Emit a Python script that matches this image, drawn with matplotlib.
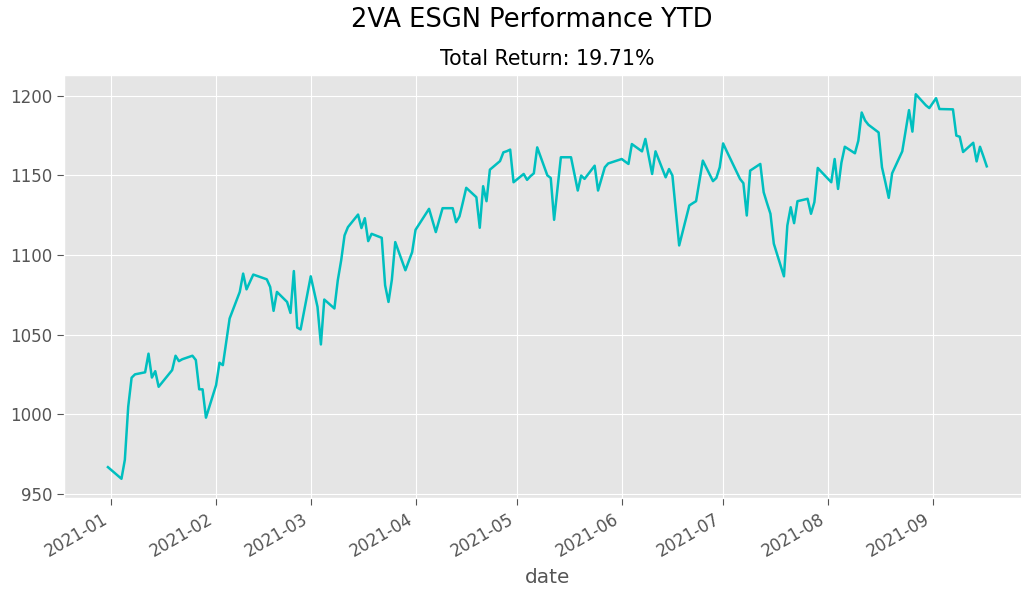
import matplotlib
matplotlib.use("Agg")
import matplotlib.pyplot as plt
import matplotlib.dates as mdates
import pandas as pd

dates = [
    "2020-12-31", "2021-01-04", "2021-01-05", "2021-01-06", "2021-01-07", "2021-01-08",
    "2021-01-11", "2021-01-12", "2021-01-13", "2021-01-14", "2021-01-15",
    "2021-01-19", "2021-01-20", "2021-01-21", "2021-01-22",
    "2021-01-25", "2021-01-26", "2021-01-27", "2021-01-28", "2021-01-29",
    "2021-02-01", "2021-02-02", "2021-02-03", "2021-02-04", "2021-02-05",
    "2021-02-08", "2021-02-09", "2021-02-10", "2021-02-11", "2021-02-12",
    "2021-02-16", "2021-02-17", "2021-02-18", "2021-02-19",
    "2021-02-22", "2021-02-23", "2021-02-24", "2021-02-25", "2021-02-26",
    "2021-03-01", "2021-03-02", "2021-03-03", "2021-03-04", "2021-03-05",
    "2021-03-08", "2021-03-09", "2021-03-10", "2021-03-11", "2021-03-12",
    "2021-03-15", "2021-03-16", "2021-03-17", "2021-03-18", "2021-03-19",
    "2021-03-22", "2021-03-23", "2021-03-24", "2021-03-25", "2021-03-26",
    "2021-03-29", "2021-03-30", "2021-03-31", "2021-04-01",
    "2021-04-05", "2021-04-06", "2021-04-07", "2021-04-08", "2021-04-09",
    "2021-04-12", "2021-04-13", "2021-04-14", "2021-04-15", "2021-04-16",
    "2021-04-19", "2021-04-20", "2021-04-21", "2021-04-22", "2021-04-23",
    "2021-04-26", "2021-04-27", "2021-04-28", "2021-04-29", "2021-04-30",
    "2021-05-03", "2021-05-04", "2021-05-05", "2021-05-06", "2021-05-07",
    "2021-05-10", "2021-05-11", "2021-05-12", "2021-05-13", "2021-05-14",
    "2021-05-17", "2021-05-18", "2021-05-19", "2021-05-20", "2021-05-21",
    "2021-05-24", "2021-05-25", "2021-05-26", "2021-05-27", "2021-05-28",
    "2021-06-01", "2021-06-02", "2021-06-03", "2021-06-04",
    "2021-06-07", "2021-06-08", "2021-06-09", "2021-06-10", "2021-06-11",
    "2021-06-14", "2021-06-15", "2021-06-16", "2021-06-17", "2021-06-18",
    "2021-06-21", "2021-06-22", "2021-06-23", "2021-06-24", "2021-06-25",
    "2021-06-28", "2021-06-29", "2021-06-30", "2021-07-01", "2021-07-02",
    "2021-07-06", "2021-07-07", "2021-07-08", "2021-07-09",
    "2021-07-12", "2021-07-13", "2021-07-14", "2021-07-15", "2021-07-16",
    "2021-07-19", "2021-07-20", "2021-07-21", "2021-07-22", "2021-07-23",
    "2021-07-26", "2021-07-27", "2021-07-28", "2021-07-29", "2021-07-30",
    "2021-08-02", "2021-08-03", "2021-08-04", "2021-08-05", "2021-08-06",
    "2021-08-09", "2021-08-10", "2021-08-11", "2021-08-12", "2021-08-13",
    "2021-08-16", "2021-08-17", "2021-08-18", "2021-08-19", "2021-08-20",
    "2021-08-23", "2021-08-24", "2021-08-25", "2021-08-26", "2021-08-27",
    "2021-08-30", "2021-08-31", "2021-09-01", "2021-09-02", "2021-09-03",
    "2021-09-07", "2021-09-08", "2021-09-09", "2021-09-10",
    "2021-09-13", "2021-09-14", "2021-09-15", "2021-09-16", "2021-09-17",
]

values = [
    966.7, 959.4, 971.3, 1004.7, 1022.9, 1025.0,
    1026.3, 1038.0, 1023.0, 1027.0, 1017.2,
    1027.7, 1036.7, 1033.3, 1034.5,
    1036.7, 1034.0, 1015.6, 1015.6, 997.8,
    1018.3, 1032.3, 1030.8, 1045.4, 1060.1,
    1076.8, 1088.3, 1078.4, 1083.0, 1087.7,
    1084.7, 1079.9, 1064.9, 1076.8,
    1070.5, 1063.6, 1089.9, 1054.4, 1053.2,
    1086.6, 1077.0, 1067.4, 1043.8, 1072.0,
    1066.4, 1084.1, 1096.6, 1112.3, 1117.5,
    1125.4, 1116.9, 1123.1, 1108.7, 1113.3,
    1110.8, 1081.0, 1070.5, 1084.5, 1108.1,
    1090.4, 1096.2, 1101.8, 1115.8,
    1129.0, 1121.7, 1114.4, 1122.0, 1129.4,
    1129.4, 1120.6, 1124.2, 1133.0, 1142.2,
    1136.3, 1117.1, 1143.2, 1133.8, 1153.6,
    1159.0, 1164.5, 1165.2, 1166.2, 1145.7,
    1150.9, 1147.2, 1149.5, 1151.3, 1167.6,
    1150.0, 1148.4, 1122.1, 1142.0, 1161.4,
    1161.4, 1151.0, 1140.5, 1149.9, 1147.8,
    1156.1, 1140.5, 1147.8, 1155.1, 1157.5,
    1160.3, 1158.7, 1157.2, 1169.7,
    1165.1, 1172.9, 1161.8, 1150.9, 1165.1,
    1148.8, 1154.0, 1149.9, 1128.0, 1106.0,
    1131.1, 1132.5, 1133.8, 1146.6, 1159.3,
    1146.4, 1148.4, 1155.1, 1170.1, 1165.5,
    1147.8, 1145.1, 1124.8, 1153.0,
    1157.2, 1139.4, 1132.5, 1125.9, 1107.1,
    1086.6, 1118.5, 1130.0, 1120.0, 1133.8,
    1135.3, 1125.9, 1133.2, 1154.7, 1152.4,
    1145.7, 1160.3, 1141.5, 1158.0, 1168.0,
    1163.9, 1171.8, 1189.5, 1184.5, 1181.8,
    1177.0, 1155.1, 1145.7, 1135.9, 1151.3,
    1165.1, 1178.1, 1191.0, 1177.5, 1201.0,
    1194.0, 1192.3, 1195.4, 1198.5, 1191.7,
    1191.5, 1175.0, 1174.3, 1164.7,
    1170.5, 1158.8, 1168.0, 1162.0, 1155.7,
]

suptitle_text = "2VA ESGN Performance YTD"
subtitle_text = "Total Return: 19.71%"
xlabel_text = "date"

plt.style.use("ggplot")
fig = plt.figure(figsize=(10.21, 5.93), dpi=100)
W, H = 1021, 593
left_px, right_px, top_px, bottom_px = 64, 1030.7, 75, 498
ax = fig.add_axes([left_px / W, 1 - bottom_px / H,
                   (right_px - left_px) / W, (bottom_px - top_px) / H])

series = pd.Series(values, index=pd.to_datetime(dates))
ax.plot(series.index, series.values, color="c", linewidth=1.8)

ax.xaxis.set_major_locator(mdates.MonthLocator())
ax.xaxis.set_major_formatter(mdates.DateFormatter("%Y-%m"))
ax.tick_params(axis="both", labelsize=12, colors="#555555", length=5)
for lbl in ax.get_xticklabels():
    lbl.set_rotation(30)
    lbl.set_ha("right")
ax.set_yticks([950, 1000, 1050, 1100, 1150, 1200])

ax.set_xlabel(xlabel_text, fontsize=14.4, color="#555555", labelpad=6)
ax.set_title(subtitle_text, fontsize=14.8, color="black", pad=7)
fig.suptitle(suptitle_text, x=532 / W, y=1 - 20 / H, va="center",
             fontsize=18.5, color="black")

fig.savefig("out.png", dpi=100)
